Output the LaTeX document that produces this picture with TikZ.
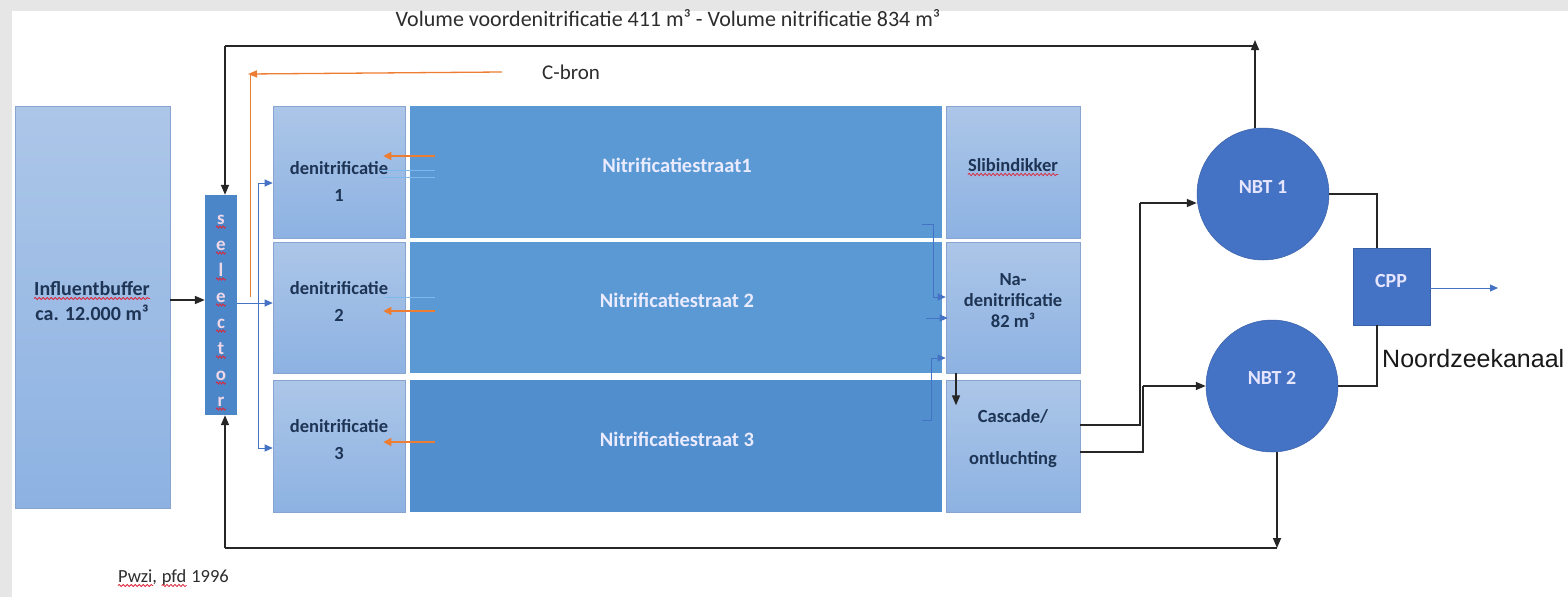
\documentclass[tikz,border=0pt]{standalone}
\usepackage{fontspec}
\setmainfont{Carlito}
\newfontfamily\arialfont{Liberation Sans}
\usetikzlibrary{arrows.meta,decorations.pathmorphing}

\definecolor{pagegray}{RGB}{230,230,230}
\definecolor{lighttop}{RGB}{172,198,232}
\definecolor{lightbot}{RGB}{141,178,226}
\definecolor{lightedge}{RGB}{135,165,208}
\definecolor{nitblue}{RGB}{90,153,212}
\definecolor{nitdark}{RGB}{80,142,205}
\definecolor{selblue}{RGB}{74,134,200}
\definecolor{tankblue}{RGB}{68,114,196}
\definecolor{flowblue}{RGB}{68,114,196}
\definecolor{corange}{RGB}{237,125,49}
\definecolor{faintblue}{RGB}{125,185,238}
\definecolor{inktext}{RGB}{30,52,85}
\definecolor{spellred}{RGB}{220,40,60}
\definecolor{captext}{RGB}{45,45,45}
\definecolor{selletter}{RGB}{240,215,232}

\tikzset{
  lightbox/.style={draw=lightedge, line width=0.6pt, top color=lighttop, bottom color=lightbot, inner sep=0pt},
  nitbox/.style={fill=#1, inner sep=0pt, minimum width=532pt, minimum height=132pt},
  tank/.style={circle, fill=tankblue, draw=tankblue!85!black, line width=0.5pt, minimum size=132pt, inner sep=0pt},
  flow/.style={line width=1.6pt, black!85},
  flowtip/.style={-{Triangle[length=10pt,width=8pt]}},
  blueflow/.style={line width=1pt, flowblue, -{Triangle[length=8pt,width=7pt]}},
  bluebracket/.style={line width=0.9pt, flowblue},
  orangeflow/.style={line width=1.3pt, corange},
  boxtext/.style={text=inktext, font=\bfseries\fontsize{18.5}{27}\selectfont, align=center, inner sep=0pt},
  whitetext/.style={text=white!92!blue, font=\bfseries\fontsize{20.5}{24}\selectfont, inner sep=0pt},
  tanktext/.style={text=white!90!blue, font=\bfseries\fontsize{20}{22}\selectfont, inner sep=0pt},
  captiontext/.style={text=captext, font=\fontsize{19}{22}\selectfont, inner sep=0pt},
  spellwave/.style={spellred, line width=0.8pt, decorate,
    decoration={snake, segment length=4pt, amplitude=1.1pt}}
}

\begin{document}
\begin{tikzpicture}[x=1pt,y=-1pt]
% page background
\useasboundingbox (0,0) rectangle (1568,597);
\fill[pagegray] (0,0) rectangle (1568,597);
\fill[white] (12,11) rectangle (1568,597);

% tanks and basins
\node[lightbox, minimum width=155pt, minimum height=402pt] (infl) at (92.5,307) {};
\node[fill=selblue, inner sep=0pt, minimum width=32pt, minimum height=220pt] (sel) at (221,305) {};

\node[lightbox, minimum width=132pt, minimum height=132pt] (den1) at (339,172) {};
\node[lightbox, minimum width=132pt, minimum height=131pt] (den2) at (339,307.5) {};
\node[lightbox, minimum width=132pt, minimum height=132pt] (den3) at (339,446) {};

\node[nitbox=nitblue] (nit1) at (676,172) {};
\node[nitbox=nitblue, minimum height=131pt] (nit2) at (676,307.5) {};
\node[nitbox=nitdark] (nit3) at (676,446) {};

\node[lightbox, minimum width=134pt, minimum height=132pt] (slib) at (1013,172) {};
\node[lightbox, minimum width=134pt, minimum height=131pt] (nadn) at (1013,307.5) {};
\node[lightbox, minimum width=134pt, minimum height=132pt] (casc) at (1013,446) {};

\node[tank] (nbt1) at (1263,194) {};
\node[tank] (nbt2) at (1272,386) {};
\node[fill=tankblue, draw=tankblue!85!black, line width=0.5pt, inner sep=0pt, minimum width=77pt, minimum height=77pt] (cpp) at (1391.5,286.5) {};

% texts
\node[captiontext, font=\fontsize{22}{26}\selectfont] (title) at (668,18) {Volume voordenitrificatie 411 m³ - Volume nitrificatie 834 m³};
\node[captiontext, font=\fontsize{21}{24}\selectfont] (cbron) at (571,72) {C-bron};

\node[captiontext, font=\fontsize{18.5}{22}\selectfont, anchor=base west] (pwzi) at (118,582) {Pwzi,};
\node[captiontext, font=\fontsize{18.5}{22}\selectfont, anchor=base west] (pfd) at ([xshift=4.5pt]pwzi.base east) {pfd};
\node[captiontext, font=\fontsize{18.5}{22}\selectfont, anchor=base west] (year) at ([xshift=4.5pt]pfd.base east) {1996};
\draw[spellwave] ([yshift=-3.5pt]pwzi.base west) -- ([xshift=-4pt,yshift=-3.5pt]pwzi.base east);
\draw[spellwave] ([yshift=-3.5pt]pfd.base west) -- ([yshift=-3.5pt]pfd.base east);

\node[boxtext, font=\bfseries\fontsize{20}{25}\selectfont, anchor=base] (inflword) at (92,295) {Influentbuffer};
\node[boxtext, font=\bfseries\fontsize{20}{25}\selectfont, anchor=base] (inflvol) at (92,320) {ca. 12.000 m³};
\draw[spellwave] ([yshift=-3.5pt]inflword.base west) -- ([yshift=-3.5pt]inflword.base east);

% selector lettering, one letter per line
\foreach \ch [count=\k] in {s,e,l,e,c,t,o,r} {
  \node[text=selletter, font=\bfseries\fontsize{19}{20}\selectfont, inner sep=0pt, anchor=base] (sel\k) at (221,198+26*\k) {\ch};
  \draw[spellwave, segment length=3pt] ([xshift=-5pt,yshift=-3pt]sel\k.base) -- ([xshift=5pt,yshift=-3pt]sel\k.base);
}

\node[boxtext] (den1text) at (339,181) {denitrificatie\\1};
\node[boxtext] (den2text) at (339,301) {denitrificatie\\2};
\node[boxtext] (den3text) at (339,440) {denitrificatie\\3};

\node[whitetext] (nit1text) at (677,165) {Nitrificatiestraat1};
\node[whitetext] (nit2text) at (677,300) {Nitrificatiestraat 2};
\node[whitetext] (nit3text) at (677,439) {Nitrificatiestraat 3};

\node[boxtext, anchor=base] (slibtext) at (1013,171) {Slibindikker};
\draw[spellwave] ([yshift=-3.5pt]slibtext.base west) -- ([yshift=-3.5pt]slibtext.base east);
\node[boxtext, font=\bfseries\fontsize{18.5}{21}\selectfont] (nadntext) at (1013,301) {Na-\\denitrificatie\\82 m³};
\node[boxtext, font=\bfseries\fontsize{18.5}{42}\selectfont] (casctext) at (1013,439) {Cascade/\\ontluchting};

\node[tanktext] (nbt1text) at (1263,187) {NBT 1};
\node[tanktext] (nbt2text) at (1272,378) {NBT 2};
\node[tanktext] (cpptext) at (1391,281) {CPP};
\node[text=black!90, font=\arialfont\fontsize{25}{28}\selectfont, anchor=base west, inner sep=0pt] (nzk) at (1382,367) {Noordzeekanaal};

% influent to selector
\draw[flow, flowtip] ([yshift=7pt]infl.east) -- ([yshift=5pt]sel.west);

% return from NBT 1 over the top to the selector
\coordinate (topR) at (1255,46);
\coordinate (topTip) at (1255,40);
\coordinate (topL) at (225,46);
\draw[flow, flowtip] ([xshift=-8pt]nbt1.north) -- (topTip);
\draw[flow] (topR) -- (topL);
\draw[flow, flowtip] (topL) -- ([xshift=4pt]sel.north);

% return from NBT 2 along the bottom to the selector
\coordinate (botR) at (1277,548);
\coordinate (botL) at (225,548);
\draw[flow, flowtip] ([xshift=5pt]nbt2.south) -- (botR);
\draw[flow] (botR) -- (botL);
\draw[flow, flowtip] (botL) -- ([xshift=4pt]sel.south);

% carbon source dosing
\coordinate (cbronL) at (248,74);
\coordinate (cbronTop) at (250,74);
\coordinate (cbronDown) at (250,297);
\draw[orangeflow, -{Triangle[length=9pt,width=7pt]}] ([xshift=-40pt]cbron.west) -- (cbronL);
\draw[orangeflow, line width=1pt] (cbronTop) -- (cbronDown);

% selector distribution to the denitrification lanes
\coordinate (splitTop) at (258,183);
\coordinate (splitMid) at (258,303);
\coordinate (splitBot) at (258,448);
\draw[bluebracket] ([yshift=2pt]sel.east) -- (splitMid);
\draw[bluebracket] (splitTop) -- (splitBot);
\draw[blueflow] (splitTop) -- (splitTop -| den1.west);
\draw[blueflow] (splitMid) -- (splitMid -| den2.west);
\draw[blueflow] (splitBot) -- (splitBot -| den3.west);

% internal recirculation from nitrification to denitrification
\draw[faintblue, line width=1pt] (380,170) -- (435,170);
\draw[faintblue, line width=1pt] (380,177) -- (435,177);
\draw[faintblue, line width=1pt] (385,297) -- (435,297);
\coordinate (rec1) at (435,156);
\coordinate (rec2) at (435,311);
\coordinate (rec3) at (435,442);
\draw[orangeflow, -{Triangle[length=8pt,width=8pt]}] (rec1) -- ([xshift=-22pt]den1.east |- rec1);
\draw[orangeflow, -{Triangle[length=8pt,width=8pt]}] (rec2) -- ([xshift=-22pt]den2.east |- rec2);
\draw[orangeflow, -{Triangle[length=8pt,width=8pt]}] (rec3) -- ([xshift=-22pt]den3.east |- rec3);

% nitrification outlets to post-denitrification
\draw[bluebracket] (922,224) -- (933,224) -- (933,297);
\draw[blueflow, line width=0.9pt] (933,297) -- ([yshift=10.5pt]nadn.west);
\draw[blueflow, line width=0.9pt] (926,318) -- ([xshift=2pt,yshift=-10.5pt]nadn.west);
\draw[bluebracket] (922,420) -- (931,420) -- (931,358);
\draw[blueflow, line width=0.9pt] (931,358) -- ([yshift=-50.5pt]nadn.west);

% post-denitrification to cascade
\draw[flow, flowtip] ([xshift=-57pt]nadn.south) -- ++(0,32);

% cascade to the final clarifiers
\draw[flow] ([yshift=21pt]casc.east) -- (1140,425) -- (1140,203);
\draw[flow, flowtip] (1140,203) -- ([yshift=-9pt]nbt1.west);
\draw[flow] ([yshift=-6pt]casc.east) -- (1143,452) -- (1143,386);
\draw[flow, flowtip] (1143,386) -- (nbt2.west);

% clarifiers to CPP and the outfall
\draw[flow] (nbt1.east) -- (1377,194) -- ([xshift=-14.5pt]cpp.north);
\draw[flow] (nbt2.east) -- (1377,386) -- ([xshift=-14.5pt]cpp.south);
\coordinate (outfall) at (1498,288);
\draw[blueflow] ([yshift=-1.5pt]cpp.east) -- (outfall);
\end{tikzpicture}
\end{document}
